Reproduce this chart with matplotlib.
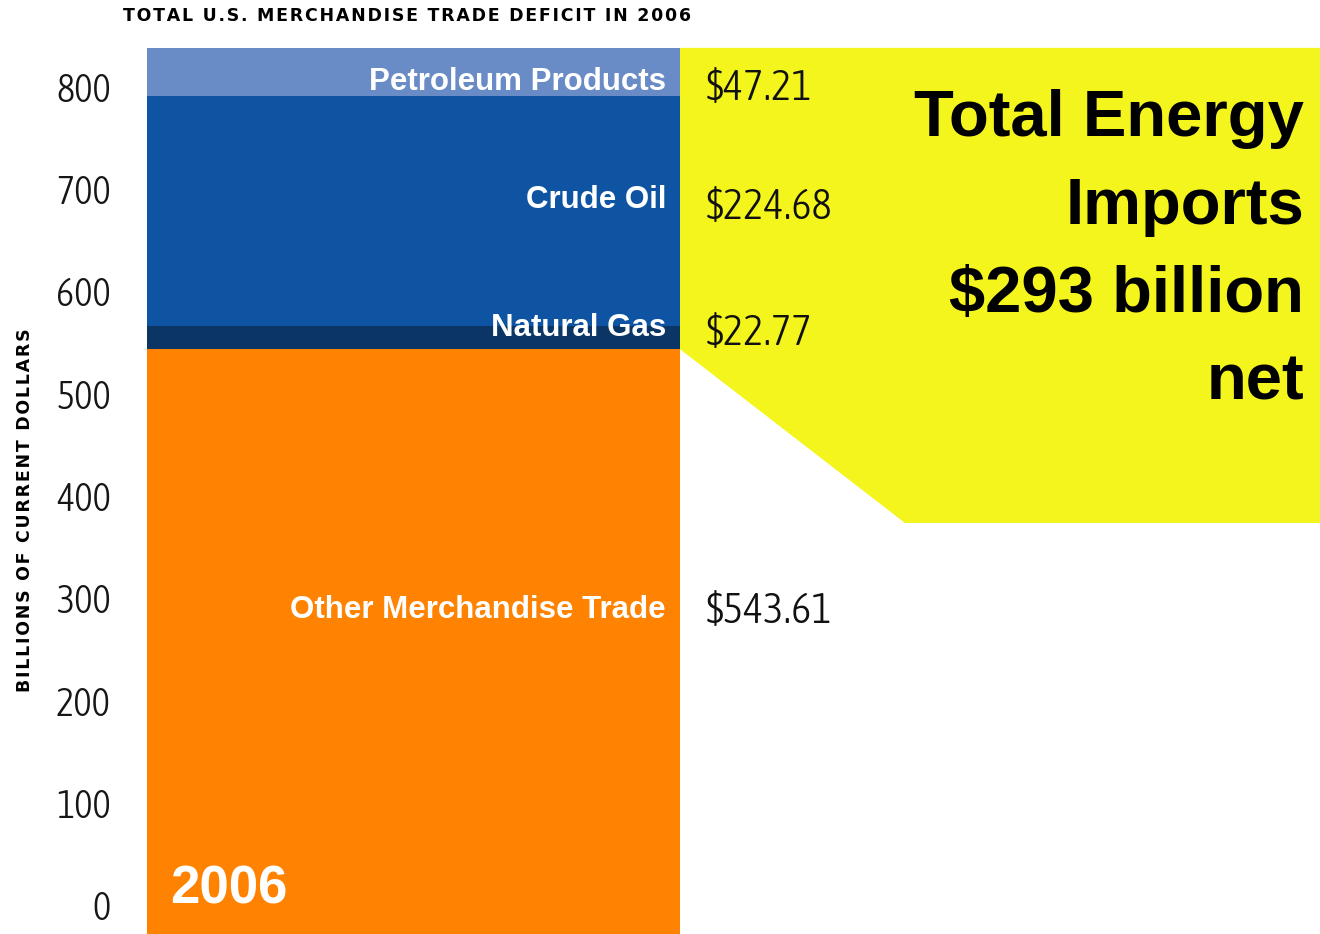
import matplotlib
matplotlib.use("Agg")
import matplotlib.pyplot as plt
from matplotlib import font_manager
from matplotlib.font_manager import FontProperties
from matplotlib.patches import Polygon

# data (billions of current dollars, 2006)
segments = ["Other Merchandise Trade", "Natural Gas", "Crude Oil", "Petroleum Products"]
values = [543.61, 22.77, 224.68, 47.21]
value_labels = ["$543.61", "$22.77", "$224.68", "$47.21"]
colors = ["#ff8200", "#0b3564", "#0e54a2", "#6a8cc6"]
yticks = [0, 100, 200, 300, 400, 500, 600, 700, 800]
energy_total = 293


def pick_narrow():
    # look for any condensed / narrow face, prefer light weight
    best = None
    for f in font_manager.fontManager.ttflist:
        if f.style != "normal":
            continue
        cond = ("Narrow" in f.name or "Condensed" in f.name
                or "condensed" in str(f.stretch) or "Condensed" in f.fname)
        if not cond:
            continue
        w = f.weight if isinstance(f.weight, int) else 400
        if w > 400:
            continue
        score = abs(w - 300)
        if best is None or score < best[0]:
            best = (score, f.fname)
    if best:
        return lambda size: FontProperties(fname=best[1], size=size)
    return lambda size: FontProperties(family="DejaVu Sans", stretch="condensed", size=size)


narrow = pick_narrow()
bold = "Liberation Sans"

W, H = 1320, 934
fig = plt.figure(figsize=(W / 100, H / 100), dpi=100)
left_px = 147
ax = fig.add_axes([left_px / W, 0, 1 - left_px / W, 1])
# x axis in pixel units, y axis in billions
px_per_unit = 818 / 800
ax.set_xlim(0, W - left_px)
ax.set_ylim(-(H - 905) / px_per_unit, 905 / px_per_unit)
bar_w = 533


def ypx(p):
    return (905 - p) / px_per_unit


bottom = 0
for name, v, c in zip(segments, values, colors):
    ax.bar(0, v, width=bar_w, bottom=bottom, align="edge", color=c, zorder=2)
    bottom += v
# orange runs down past zero to the page edge
ax.bar(0, -ax.get_ylim()[0], width=bar_w, bottom=ax.get_ylim()[0], align="edge",
       color=colors[0], zorder=2)
total = bottom

# yellow callout panel
panel_bottom = ypx(523)
poly = Polygon([(bar_w, total), (W - left_px, total), (W - left_px, panel_bottom),
                (758, panel_bottom), (bar_w, values[0])],
               closed=True, facecolor="#f5f51e", edgecolor="none", zorder=1)
ax.add_patch(poly)

# labels inside bar and values to the right
label_y = [ypx(610), ypx(328), ypx(200), ypx(82)]
value_y = [ypx(611), ypx(333), ypx(207), ypx(88)]
for name, y in zip(segments, label_y):
    ax.text(bar_w - 14, y, name, ha="right", va="center", color="white",
            fontsize=22.5, fontweight="bold", family=bold, zorder=3)
for lab, y in zip(value_labels, value_y):
    ax.text(bar_w + 26, y, lab, ha="left", va="center", color="#111111",
            fontproperties=narrow(31), zorder=3)

ax.text(23, ypx(889), "2006", ha="left", va="center", color="white", fontsize=38,
        fontweight="bold", family=bold, zorder=3)

big = ["Total Energy", "Imports", f"${energy_total} billion", "net"]
for i, line in enumerate(big):
    ax.text(W - left_px - 16, ypx(119 + 88 * i), line,
            ha="right", va="center", fontsize=47, fontweight="bold",
            family=bold, color="black", zorder=3)

ax.set_yticks(yticks)
ax.set_yticklabels([str(t) for t in yticks], color="#161616")
for t in ax.get_yticklabels():
    t.set_fontproperties(narrow(28))
ax.tick_params(axis="y", length=0, pad=26)
ax.set_xticks([])
for s in ax.spines.values():
    s.set_visible(False)
ax.patch.set_alpha(0)

hs = "\u200a"
fig.text(25 / W, 1 - 510 / H, hs.join("BILLIONS OF CURRENT DOLLARS"), rotation=90,
         ha="center", va="center", fontsize=12.5, fontweight="bold", family="DejaVu Sans")
fig.text(123 / W, 1 - 16 / H, hs.join("TOTAL U.S. MERCHANDISE TRADE DEFICIT IN 2006"),
         ha="left", va="center", fontsize=12.5, fontweight="bold", family="DejaVu Sans")

fig.savefig("out.png", dpi=100)
